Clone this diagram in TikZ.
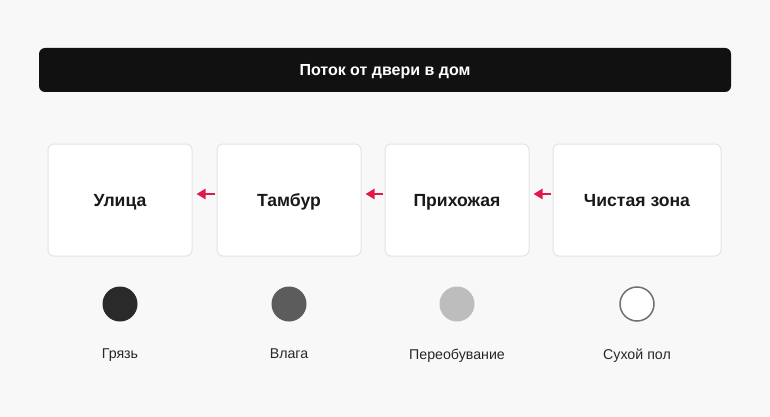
\documentclass[tikz,border=0pt]{standalone}
\usepackage{fontspec}
\setmainfont{Liberation Sans}
\usetikzlibrary{arrows.meta}
\definecolor{pagebg}{HTML}{F8F8F8}
\definecolor{barfill}{HTML}{111111}
\definecolor{boxline}{HTML}{E4E4E4}
\definecolor{flowred}{HTML}{E0194A}
\definecolor{dotA}{HTML}{2A2A2A}
\definecolor{dotB}{HTML}{5C5C5C}
\definecolor{dotC}{HTML}{BDBDBD}
\definecolor{dotline}{HTML}{707070}
\begin{document}
\begin{tikzpicture}[x=1pt,y=-1pt,
  zonebox/.style={draw=boxline,line width=1pt,fill=white,rounded corners=6pt,minimum height=112pt,inner sep=0pt,text depth=0pt,font=\fontsize{17.6}{20}\selectfont\bfseries,text=black!90},
  flow/.style={draw=flowred,line width=2.2pt,-{Triangle[length=9pt,width=10pt]}},
  dot/.style={circle,minimum size=35pt,inner sep=0pt},
  dotlabel/.style={text depth=0pt,font=\fontsize{14.2}{16}\selectfont,text=black!85}]
%background
\fill[pagebg] (0,0) rectangle (770,417);
\useasboundingbox (0,0) rectangle (770,417);

%title bar
\node (title) [fill=barfill,rounded corners=6pt,minimum width=692pt,minimum height=44pt,inner sep=0pt,text depth=0pt,
  text=white,font=\fontsize{16}{18}\selectfont\bfseries] at (385,70) {Поток от двери в дом};

%zones
\node (ulica) [zonebox,minimum width=144pt] at (120,200) {Улица};
\node (tambur) [zonebox,minimum width=144pt] at (289,200) {Тамбур};
\node (prih) [zonebox,minimum width=144pt] at (457,200) {Прихожая};
\node (chist) [zonebox,minimum width=168pt] at (637,200) {Чистая зона};

%arrows
\draw[flow] ([xshift=-2pt,yshift=6pt]tambur.west) -- ([xshift=4pt,yshift=6pt]ulica.east);
\draw[flow] ([xshift=-2pt,yshift=6pt]prih.west) -- ([xshift=4pt,yshift=6pt]tambur.east);
\draw[flow] ([xshift=-2pt,yshift=6pt]chist.west) -- ([xshift=4pt,yshift=6pt]prih.east);

%legend dots
\node (d1) [dot,fill=dotA] at (120,304) {};
\node (d2) [dot,fill=dotB] at (289,304) {};
\node (d3) [dot,fill=dotC] at (457,304) {};
\node (d4) [dot,fill=white,draw=dotline,line width=1.5pt,minimum size=34pt] at (637,304) {};

% Text Node
\node (l1) [dotlabel] at (120,354) {Грязь};
\node (l2) [dotlabel] at (289,354) {Влага};
\node (l3) [dotlabel] at (457,354) {Переобувание};
\node (l4) [dotlabel] at (637,354) {Сухой пол};
\end{tikzpicture}
\end{document}
